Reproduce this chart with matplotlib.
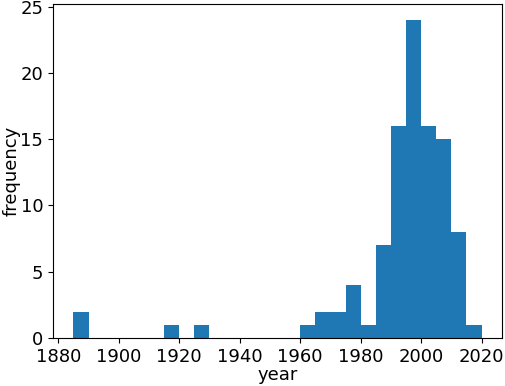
import matplotlib
matplotlib.use("Agg")
import matplotlib.pyplot as plt
import numpy as np

bin_starts = [1885, 1890, 1895, 1900, 1905, 1910, 1915, 1920, 1925, 1930, 1935, 1940,
              1945, 1950, 1955, 1960, 1965, 1970, 1975, 1980, 1985, 1990, 1995, 2000,
              2005, 2010, 2015]
counts = [2, 0, 0, 0, 0, 0, 1, 0, 1, 0, 0, 0,
          0, 0, 0, 1, 2, 2, 4, 1, 7, 16, 24, 16,
          15, 8, 1]
bin_width = 5
xticks = [1880, 1900, 1920, 1940, 1960, 1980, 2000, 2020]
yticks = [0, 5, 10, 15, 20, 25]

plt.rcParams['font.size'] = 13
fig = plt.figure(figsize=(5.05, 3.86), dpi=100)
ax = fig.add_axes([0.105, 0.124, 0.889, 0.866])
edges = list(bin_starts) + [bin_starts[-1] + bin_width]
ax.hist(bin_starts, bins=edges, weights=counts, color='#1f77b4')
ax.set_xticks(xticks)
ax.set_yticks(yticks)
ax.set_xlabel('year', labelpad=0)
ax.set_ylabel('frequency', labelpad=0)
fig.savefig('out.png', dpi=100)
